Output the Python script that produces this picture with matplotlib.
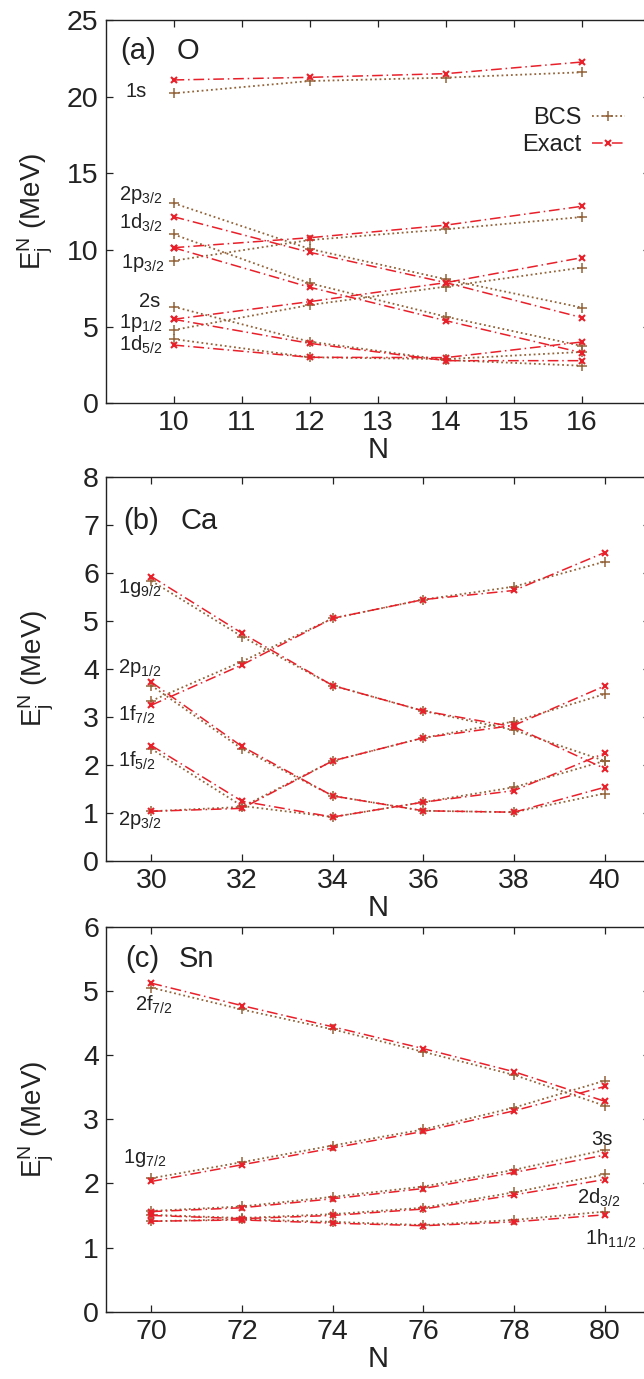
import matplotlib
matplotlib.use("Agg")
import matplotlib.pyplot as plt

plt.rcParams['font.family'] = ['Liberation Sans', 'DejaVu Sans']
plt.rcParams['mathtext.fontset'] = 'custom'
plt.rcParams['mathtext.rm'] = 'Liberation Sans'
plt.rcParams['mathtext.it'] = 'Liberation Sans:italic'

# ---------------- data ----------------
# (a) O
N_O = [10, 12, 14, 16]
O_1s_bcs = [20.22, 21.02, 21.24, 21.59]
O_1s_exact = [21.09, 21.26, 21.50, 22.26]
O_2p32_bcs = [13.05, 10.07, 8.09, 6.24]
O_2p32_exact = [12.17, 9.85, 7.87, 5.59]
O_1d32_bcs = [11.02, 7.83, 5.65, 3.74]
O_1d32_exact = [10.15, 7.57, 5.39, 3.30]
O_1p32_bcs = [9.30, 10.65, 11.35, 12.15]
O_1p32_exact = [10.15, 10.80, 11.62, 12.85]
O_1p12_bcs = [4.78, 6.41, 7.61, 8.85]
O_1p12_exact = [5.48, 6.63, 7.87, 9.50]
O_2s_bcs = [6.30, 4.02, 2.82, 2.45]
O_2s_exact = [5.48, 3.91, 2.78, 2.78]
O_1d52_bcs = [4.19, 3.00, 2.88, 3.35]
O_1d52_exact = [3.80, 3.00, 2.98, 4.00]

# (b) Ca
N_Ca = [30, 32, 34, 36, 38, 40]
Ca_1g92_bcs = [5.83, 4.67, 3.65, 3.12, 2.72, 2.08]
Ca_1g92_exact = [5.92, 4.74, 3.65, 3.12, 2.79, 1.92]
Ca_2p12_bcs = [3.33, 4.15, 5.05, 5.44, 5.71, 6.23]
Ca_2p12_exact = [3.24, 4.08, 5.05, 5.44, 5.63, 6.42]
Ca_1f72_bcs = [3.65, 2.33, 1.35, 1.04, 1.01, 1.40]
Ca_1f72_exact = [3.72, 2.38, 1.35, 1.04, 1.01, 1.53]
Ca_1f52_bcs = [2.33, 1.14, 0.91, 1.22, 1.53, 2.08]
Ca_1f52_exact = [2.40, 1.24, 0.91, 1.22, 1.46, 2.24]
Ca_2p32_bcs = [1.03, 1.12, 2.08, 2.56, 2.90, 3.47]
Ca_2p32_exact = [1.03, 1.09, 2.08, 2.56, 2.82, 3.64]

# (c) Sn
N_Sn = [70, 72, 74, 76, 78, 80]
Sn_2f72_bcs = [5.05, 4.71, 4.40, 4.05, 3.69, 3.21]
Sn_2f72_exact = [5.12, 4.77, 4.44, 4.10, 3.74, 3.28]
Sn_1g72_bcs = [2.08, 2.33, 2.59, 2.84, 3.18, 3.60]
Sn_1g72_exact = [2.03, 2.29, 2.55, 2.81, 3.13, 3.51]
Sn_3s_bcs = [1.57, 1.64, 1.79, 1.95, 2.21, 2.52]
Sn_3s_exact = [1.56, 1.62, 1.76, 1.92, 2.17, 2.44]
Sn_2d32_bcs = [1.51, 1.46, 1.52, 1.62, 1.86, 2.14]
Sn_2d32_exact = [1.50, 1.45, 1.50, 1.60, 1.82, 2.06]
Sn_1h112_bcs = [1.41, 1.44, 1.40, 1.35, 1.43, 1.56]
Sn_1h112_exact = [1.41, 1.43, 1.38, 1.34, 1.40, 1.51]

# ---------------- style ----------------
BROWN = '#93643a'
RED = '#e8202a'
INK = '#222222'
W, H = 644, 1379
fig = plt.figure(figsize=(W / 100, H / 100), dpi=100)

def px_axes(left, right, top, bottom):
    return fig.add_axes([left / W, 1 - bottom / H, (right - left) / W, (bottom - top) / H])

def draw_pair(ax, x, bcs, exact):
    hb, = ax.plot(x, bcs, color=BROWN, ls=(0, (1, 1.6)), lw=1.3, marker='+', ms=6.5,
                  mew=1.1, label='BCS', zorder=2)
    he, = ax.plot(x, exact, color=RED, ls=(0, (7, 2.5, 1, 2.5)), lw=1.1, marker='x',
                  ms=5, mew=1.5, label='Exact', zorder=3)
    return hb, he

def style(ax, xlim, ylim, xticks, yticks):
    ax.set_xlim(*xlim)
    ax.set_ylim(*ylim)
    ax.set_xticks(xticks)
    ax.set_yticks(yticks)
    for s in ax.spines.values():
        s.set_color(INK)
        s.set_linewidth(1.0)
    ax.tick_params(direction='in', length=5, width=0.9, top=True, right=True,
                   labelsize=20.5, pad=5, colors=INK)
    ax.set_xlabel('N', fontsize=21, labelpad=0, color=INK)
    ax.set_ylabel(r'$\mathregular{E_j^N}$ (MeV)', fontsize=20, color=INK)
    ax.yaxis.set_label_coords(-0.092, 0.5)

lab_fs = 14.5

# ---------------- (a) O ----------------
axa = px_axes(105.5, 650, 20, 403.3)
pairs_O = [(O_1s_bcs, O_1s_exact), (O_2p32_bcs, O_2p32_exact), (O_1d32_bcs, O_1d32_exact),
           (O_1p32_bcs, O_1p32_exact), (O_1p12_bcs, O_1p12_exact), (O_2s_bcs, O_2s_exact),
           (O_1d52_bcs, O_1d52_exact)]
handles = None
for b, e in pairs_O:
    h = draw_pair(axa, N_O, b, e)
    if handles is None:
        handles = h
style(axa, (9, 17), (0, 25), range(10, 17), range(0, 26, 5))
for txt, x, y in [('1s', 9.61, 20.33), (r'$\mathregular{2p_{3/2}}$', 9.84, 13.6),
                  (r'$\mathregular{1d_{3/2}}$', 9.84, 11.74), (r'$\mathregular{1p_{3/2}}$', 9.87, 9.13),
                  ('2s', 9.80, 6.63), (r'$\mathregular{1p_{1/2}}$', 9.84, 5.25),
                  (r'$\mathregular{1d_{5/2}}$', 9.84, 3.83)]:
    axa.text(x, y, txt, ha='right', va='center', fontsize=lab_fs, color=INK)
axa.text(9.21, 22.95, '(a)', ha='left', va='center', fontsize=21, color=INK)
axa.text(10.05, 22.95, 'O', ha='left', va='center', fontsize=21, color=INK)
axa.legend(handles, ['BCS', 'Exact'], loc='upper left', bbox_to_anchor=(0.765, 0.772),
           frameon=False, markerfirst=False, fontsize=17, handlelength=1.4,
           handletextpad=0.45, labelspacing=0.2, borderpad=0, borderaxespad=0,
           labelcolor=INK)

# ---------------- (b) Ca ----------------
axb = px_axes(106, 650, 476.7, 860.7)
for b, e in [(Ca_1g92_bcs, Ca_1g92_exact), (Ca_2p12_bcs, Ca_2p12_exact),
             (Ca_1f72_bcs, Ca_1f72_exact), (Ca_1f52_bcs, Ca_1f52_exact),
             (Ca_2p32_bcs, Ca_2p32_exact)]:
    draw_pair(axb, N_Ca, b, e)
style(axb, (29, 41), (0, 8), range(30, 41, 2), range(0, 9))
for txt, y in [(r'$\mathregular{1g_{9/2}}$', 5.68), (r'$\mathregular{2p_{1/2}}$', 4.01),
               (r'$\mathregular{1f_{7/2}}$', 3.04), (r'$\mathregular{1f_{5/2}}$', 2.08),
               (r'$\mathregular{2p_{3/2}}$', 0.85)]:
    axb.text(29.27, y, txt, ha='left', va='center', fontsize=lab_fs, color=INK)
axb.text(29.37, 7.08, '(b)', ha='left', va='center', fontsize=21, color=INK)
axb.text(30.65, 7.08, 'Ca', ha='left', va='center', fontsize=21, color=INK)

# ---------------- (c) Sn ----------------
axc = px_axes(106, 650, 926.7, 1311.7)
for b, e in [(Sn_2f72_bcs, Sn_2f72_exact), (Sn_1g72_bcs, Sn_1g72_exact),
             (Sn_3s_bcs, Sn_3s_exact), (Sn_2d32_bcs, Sn_2d32_exact),
             (Sn_1h112_bcs, Sn_1h112_exact)]:
    draw_pair(axc, N_Sn, b, e)
style(axc, (69, 81), (0, 6), range(70, 81, 2), range(0, 7))
for txt, x, y in [(r'$\mathregular{2f_{7/2}}$', 69.64, 4.78), (r'$\mathregular{1g_{7/2}}$', 69.38, 2.40),
                  ('3s', 79.70, 2.69), (r'$\mathregular{2d_{3/2}}$', 79.39, 1.77),
                  (r'$\mathregular{1h_{11/2}}$', 79.57, 1.13)]:
    axc.text(x, y, txt, ha='left', va='center', fontsize=lab_fs, color=INK)
axc.text(69.42, 5.49, '(c)', ha='left', va='center', fontsize=21, color=INK)
axc.text(70.61, 5.49, 'Sn', ha='left', va='center', fontsize=21, color=INK)

fig.savefig('out.png', dpi=100)
